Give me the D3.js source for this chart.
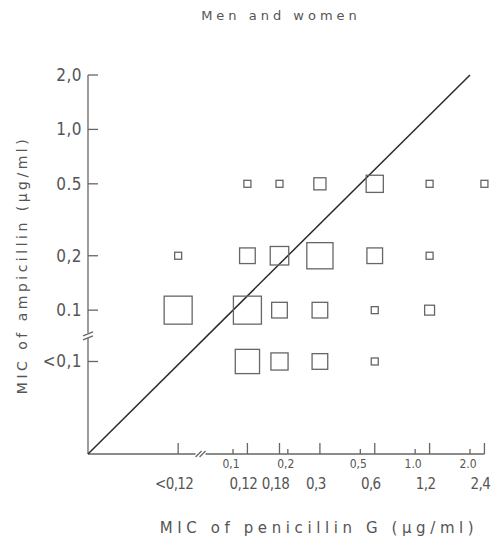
<!DOCTYPE html>
<html>
<head>
<meta charset="utf-8">
<script src="https://cdn.jsdelivr.net/npm/d3@7"></script>
<style>
  body { margin: 0; background: #fff; }
  text { font-family: "DejaVu Sans", sans-serif; fill: #555; }
  text.num { font-family: "DejaVu Sans Condensed", "DejaVu Sans", sans-serif; font-stretch: condensed; }
</style>
</head>
<body>
<svg id="chart" width="503" height="540"></svg>
<script>
// penicillin G categories (x) and where they sit on the log scale
const penLabels = ["<0,12", "0,12", "0,18", "0,3", "0,6", "1,2", "2,4"];
const penValues = [0.05, 0.12, 0.18, 0.3, 0.6, 1.2, 2.4];
// true scale ticks drawn under the x axis
const penScaleTicks = [0.1, 0.2, 0.5, 1.0, 2.0];
const penScaleLabels = ["0,1", "0,2", "0,5", "1.0", "2.0"];

// ampicillin categories (y)
const ampLabels = ["<0,1", "0.1", "0,2", "0.5", "1,0", "2,0"];
const ampValues = [0.052, 0.1, 0.2, 0.5, 1.0, 2.0];

// number of strains per cell, one array per ampicillin row, in penLabels order
const countsAmp05 = [0, 1, 1, 3, 6, 1, 1];
const countsAmp02 = [1, 5, 7, 14, 5, 1, 0];
const countsAmp01 = [16, 16, 5, 5, 1, 2, 0];
const countsAmpLt01 = [0, 12, 6, 5, 1, 0, 0];

// line of equal MIC
const diagonal = [0.016, 2.0];

const svg = d3.select("#chart");

const x = d3.scaleLog().domain([0.016, 2]).range([88, 470]);
const y = d3.scaleLog().domain([0.016, 2]).range([454, 75]);
const side = d3.scaleSqrt().domain([0, 16]).range([0, 28]);

const translate = (a, b) => "translate(" + a + "," + b + ")";

// title
svg.append("text")
    .attr("x", 281).attr("y", 20)
    .attr("text-anchor", "middle")
    .style("font-size", "13px")
    .style("letter-spacing", "4px")
    .text("Men and women");

const axisG = svg.append("g").attr("stroke", "#666").attr("stroke-width", 1.3).attr("fill", "none");

// y axis line
axisG.append("line")
    .attr("x1", x(0.016)).attr("x2", x(0.016))
    .attr("y1", y(0.016)).attr("y2", y(2));

// y ticks (inward)
axisG.selectAll("line.ytick").data(ampValues).enter()
    .append("line")
    .attr("class", "ytick")
    .attr("x1", x(0.016)).attr("x2", x(0.016) + 10)
    .attr("y1", d => y(d)).attr("y2", d => y(d));

// y break
const yBreak = (y(0.1) + y(0.052)) / 2;
axisG.append("rect")
    .attr("x", x(0.016) - 4).attr("y", yBreak - 3)
    .attr("width", 8).attr("height", 5)
    .attr("fill", "#fff").attr("stroke", "none");
[-2, 2].forEach(o => {
    axisG.append("line")
        .attr("x1", x(0.016) - 5).attr("x2", x(0.016) + 5)
        .attr("y1", yBreak + o + 2).attr("y2", yBreak + o - 2);
});

svg.selectAll("text.ylab").data(ampValues).enter()
    .append("text")
    .attr("class", "ylab num")
    .attr("x", x(0.016) - 6)
    .attr("y", d => y(d) + 6)
    .attr("text-anchor", "end")
    .style("font-size", "17px")
    .style("letter-spacing", "0.5px")
    .text((d, i) => ampLabels[i]);

// x axis line
axisG.append("line")
    .attr("x1", x(0.016)).attr("x2", x(2.4))
    .attr("y1", y(0.016)).attr("y2", y(0.016));

// x break "//"
const xBreak = (x(0.05) + x(0.1)) / 2 - 5;
axisG.append("rect")
    .attr("x", xBreak - 5).attr("y", y(0.016) - 2)
    .attr("width", 10).attr("height", 4)
    .attr("fill", "#fff").attr("stroke", "none");
[-2, 2].forEach(o => {
    axisG.append("line")
        .attr("x1", xBreak + o - 3).attr("x2", xBreak + o + 3)
        .attr("y1", y(0.016) + 3).attr("y2", y(0.016) - 3);
});

// category ticks (tall)
axisG.selectAll("line.xtick").data(penValues).enter()
    .append("line")
    .attr("class", "xtick")
    .attr("x1", d => x(d)).attr("x2", d => x(d))
    .attr("y1", y(0.016)).attr("y2", y(0.016) - 11);

// scale ticks (short)
axisG.selectAll("line.stick").data(penScaleTicks).enter()
    .append("line")
    .attr("class", "stick")
    .attr("x1", d => x(d)).attr("x2", d => x(d))
    .attr("y1", y(0.016)).attr("y2", y(0.016) - 5);

svg.selectAll("text.slab").data(penScaleTicks).enter()
    .append("text")
    .attr("class", "slab num")
    .attr("x", d => x(d) - 2)
    .attr("y", y(0.016) + 14)
    .attr("text-anchor", "middle")
    .style("font-size", "12px")
    .text((d, i) => penScaleLabels[i]);

svg.selectAll("text.xlab").data(penValues).enter()
    .append("text")
    .attr("class", "xlab num")
    .attr("x", d => x(d) - 4)
    .attr("y", y(0.016) + 35)
    .attr("text-anchor", "middle")
    .style("font-size", "15px")
    .style("letter-spacing", "-0.6px")
    .text((d, i) => penLabels[i]);

// axis titles
svg.append("text")
    .attr("x", 319).attr("y", 533)
    .attr("text-anchor", "middle")
    .style("font-size", "15px")
    .style("letter-spacing", "4.6px")
    .text("MIC of penicillin G (µg/ml)");

svg.append("text")
    .attr("transform", translate(27, 265) + " rotate(-90)")
    .attr("text-anchor", "middle")
    .style("font-size", "14px")
    .style("letter-spacing", "3.5px")
    .text("MIC of ampicillin (µg/ml)");

// equal MIC line
svg.append("path")
    .attr("d", d3.line()(diagonal.map(v => [x(v), y(v)])))
    .attr("stroke", "#2a2a2a")
    .attr("stroke-width", 1.5)
    .attr("fill", "none");

// cells
const rows = [
    {amp: ampValues[3], counts: countsAmp05},
    {amp: ampValues[2], counts: countsAmp02},
    {amp: ampValues[1], counts: countsAmp01},
    {amp: ampValues[0], counts: countsAmpLt01}
];
const cells = [];
rows.forEach(r => {
    r.counts.forEach((n, i) => {
        if (n > 0) cells.push({amp: r.amp, pen: penValues[i], n: n});
    });
});

svg.append("g").selectAll("rect.cell").data(cells).enter()
    .append("rect")
    .attr("class", "cell")
    .attr("x", d => x(d.pen) - side(d.n) / 2)
    .attr("y", d => y(d.amp) - side(d.n) / 2)
    .attr("width", d => side(d.n))
    .attr("height", d => side(d.n))
    .attr("fill", "none")
    .attr("stroke", "#666")
    .attr("stroke-width", 1.3);
</script>
</body>
</html>
